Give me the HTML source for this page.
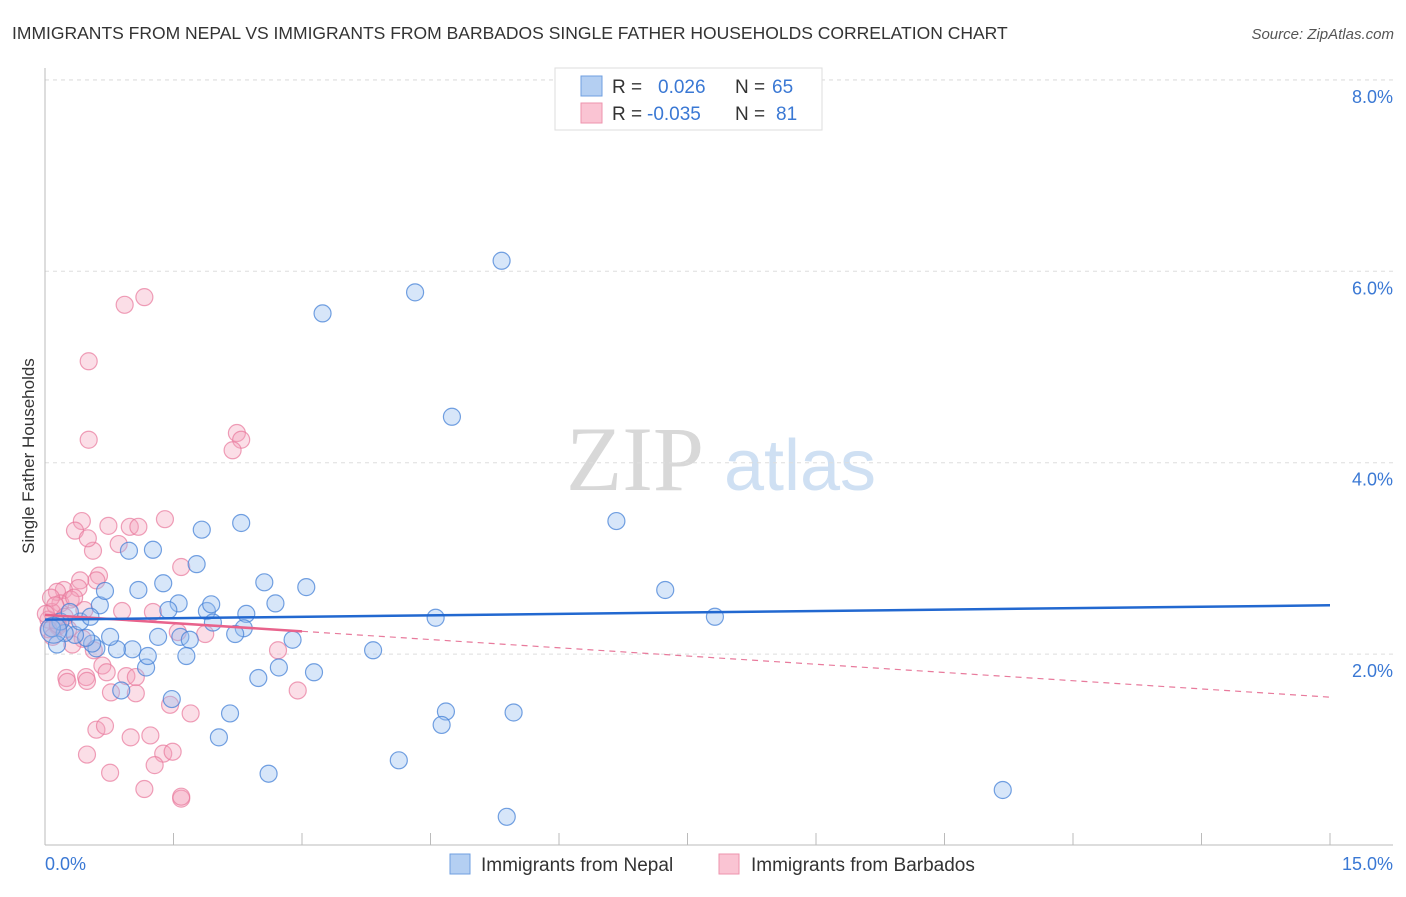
<!DOCTYPE html>
<html><head><meta charset="utf-8"><style>
body{margin:0;background:#fff;font-family:"Liberation Sans",sans-serif;}
</style></head><body>
<svg width="1406" height="892" xmlns="http://www.w3.org/2000/svg" font-family="Liberation Sans, sans-serif">
<text x="12" y="39" font-size="17.5" fill="#333">IMMIGRANTS FROM NEPAL VS IMMIGRANTS FROM BARBADOS SINGLE FATHER HOUSEHOLDS CORRELATION CHART</text>
<text x="1394" y="39" font-size="15" fill="#555" font-style="italic" text-anchor="end">Source: ZipAtlas.com</text>
<text x="34" y="456" font-size="17" fill="#333" transform="rotate(-90 34 456)" text-anchor="middle">Single Father Households</text>
<g><text x="635" y="490" font-size="92" fill="#d8d8d8" font-family="Liberation Serif, serif" text-anchor="middle">ZIP</text><text x="800" y="490" font-size="72" fill="#cfe0f3" text-anchor="middle">atlas</text></g>
<g id="grid"></g><g id="axes"></g><g id="marks"></g><g id="lines"></g>
<g>
<rect x="555" y="68" width="267" height="62" fill="#fff" stroke="#ddd"/>
<rect x="581" y="76" width="21" height="20" fill="#b4cff2" stroke="#6f9fe0"/>
<rect x="581" y="103" width="21" height="20" fill="#fac4d3" stroke="#ee93ae"/>
<text x="612" y="93" font-size="19" fill="#333">R =</text><text x="658" y="93" font-size="19" fill="#3a78d4">0.026</text>
<text x="735" y="93" font-size="19" fill="#333">N =</text><text x="772" y="93" font-size="19" fill="#3a78d4">65</text>
<text x="612" y="120" font-size="19" fill="#333">R =</text><text x="647" y="120" font-size="19" fill="#3a78d4">-0.035</text>
<text x="735" y="120" font-size="19" fill="#333">N =</text><text x="776" y="120" font-size="19" fill="#3a78d4">81</text>
</g>
<g>
<rect x="450" y="854" width="20" height="20" fill="#b4cff2" stroke="#6f9fe0"/>
<text x="481" y="871" font-size="19" fill="#333">Immigrants from Nepal</text>
<rect x="719" y="854" width="20" height="20" fill="#fac4d3" stroke="#ee93ae"/>
<text x="751" y="871" font-size="19" fill="#333">Immigrants from Barbados</text>
</g>
</svg>
<script>
const yTicks=[2,4,6,8];
const yTickLabels=["2.0%","4.0%","6.0%","8.0%"];
const xTickCount=10;
const xLabels=["0.0%","15.0%"];
const nepalX=[5.33,4.32,3.24,4.75,6.67,7.24,7.82,4.56,3.83,11.18,5.39,5.47,4.68,4.63,4.13,2.61,2.03,2.16,1.48,0.89,2.49,2.73,3.14,2.89,3.05,2.56,2.69,2.29,1.83,1.77,1.26,0.98,1.38,1.09,1.56,1.44,1.89,1.94,2.35,2.32,2.22,1.96,1.58,1.69,1.32,1.65,1.18,1.20,1.02,0.84,0.76,0.64,0.70,0.60,0.55,0.48,0.35,0.23,0.14,0.41,0.18,0.29,0.08,0.53,0.10];
const nepalY=[6.11,5.78,5.56,4.48,3.39,2.67,2.39,2.38,2.04,0.58,0.30,1.39,1.40,1.26,0.89,0.75,1.13,1.38,1.53,1.62,1.75,1.86,1.81,2.15,2.70,2.75,2.53,3.37,3.30,2.94,3.09,3.08,2.74,2.67,2.53,2.46,2.45,2.52,2.42,2.27,2.21,2.33,2.18,2.15,2.18,1.98,1.86,1.98,2.05,2.05,2.18,2.51,2.66,2.06,2.11,2.17,2.20,2.22,2.10,2.34,2.34,2.44,2.27,2.39,2.25];
const barbX=[1.16,0.93,0.51,0.51,2.24,2.29,2.19,1.40,0.43,0.35,0.74,0.99,1.09,0.86,0.56,0.50,1.59,0.63,0.60,0.41,0.39,0.22,0.14,0.18,0.30,0.34,0.90,1.26,0.46,0.08,0.04,0.15,0.04,0.09,0.44,0.32,0.57,1.55,1.87,2.72,2.95,0.67,0.72,0.48,0.25,0.26,0.49,0.95,1.06,0.77,1.06,1.46,1.70,0.60,0.70,1.00,1.23,0.49,1.38,1.49,1.28,0.76,1.16,1.59,1.59,0.07,0.12,0.01,0.23,0.15,0.27];
const barbY=[5.73,5.65,5.06,4.24,4.31,4.24,4.13,3.41,3.39,3.29,3.34,3.33,3.33,3.15,3.08,3.21,2.91,2.82,2.77,2.77,2.69,2.67,2.65,2.53,2.57,2.59,2.45,2.44,2.46,2.44,2.36,2.29,2.26,2.18,2.16,2.10,2.04,2.23,2.21,2.04,1.62,1.88,1.81,1.76,1.75,1.71,1.72,1.77,1.76,1.60,1.59,1.47,1.38,1.21,1.25,1.13,1.15,0.95,0.96,0.98,0.84,0.76,0.59,0.49,0.51,2.59,2.51,2.42,2.39,2.31,2.26];
const nepalTrend=[2.36,2.51];
const barbTrend=[2.41,1.55];
const barbSolidEnd=3.0;
const X=v=>45+v*(1285/15), Y=v=>845.5-v*95.7;
const NS="http://www.w3.org/2000/svg";
function mk(tag,attrs,parent){const e=document.createElementNS(NS,tag);for(const k in attrs)e.setAttribute(k,attrs[k]);document.getElementById(parent).appendChild(e);return e;}
yTicks.forEach((t,i)=>{
 const l=mk('line',{x1:45,x2:1393,y1:Y(t),y2:Y(t),stroke:'#ddd','stroke-dasharray':'4,4'},'grid');
 
 
 const tx=mk('text',{x:1393,y:Y(t)+23,'font-size':18,fill:'#3a78d4','text-anchor':'end'},'grid');
 tx.textContent=yTickLabels[i];
 
 
});
const tg=mk('line',{x1:45,x2:1393,y1:80,y2:80,stroke:'#ddd','stroke-dasharray':'4,4'},'grid');
mk('line',{x1:45,x2:45,y1:68,y2:845,stroke:'#bbb'},'axes');
mk('line',{x1:45,x2:1393,y1:845,y2:845,stroke:'#bbb'},'axes');
for(let i=0;i<=xTickCount;i++){const t=mk('line',{x1:X(i*1.5),x2:X(i*1.5),y1:833,y2:845,stroke:'#bbb'},'axes');
 
 }
const xl0=mk('text',{x:45,y:870,'font-size':18,fill:'#3a78d4'},'axes');xl0.textContent=xLabels[0];


const xl1=mk('text',{x:1393,y:870,'font-size':18,fill:'#3a78d4','text-anchor':'end'},'axes');xl1.textContent=xLabels[1];


barbX.forEach((v,i)=>{const c=mk('circle',{cx:X(v),cy:Y(barbY[i]),r:8.5,fill:'rgba(244,160,185,0.35)',stroke:'rgba(232,120,155,0.7)','stroke-width':1.2},'marks');
 
 });
nepalX.forEach((v,i)=>{const c=mk('circle',{cx:X(v),cy:Y(nepalY[i]),r:i==nepalX.length-1?13:8.5,fill:'rgba(150,190,238,0.38)',stroke:'rgba(70,130,215,0.75)','stroke-width':1.2},'marks');
 
 });
const bAt=x=>barbTrend[0]+(barbTrend[1]-barbTrend[0])*x/15;
const pd=mk('line',{x1:X(barbSolidEnd),y1:Y(bAt(barbSolidEnd)),x2:X(15),y2:Y(barbTrend[1]),stroke:'#e87a9c','stroke-width':1.2,'stroke-dasharray':'6,5'},'lines');


const ps=mk('line',{x1:X(0),y1:Y(barbTrend[0]),x2:X(barbSolidEnd),y2:Y(bAt(barbSolidEnd)),stroke:'#e8638c','stroke-width':2.5},'lines');


const nl=mk('line',{x1:X(0),y1:Y(nepalTrend[0]),x2:X(15),y2:Y(nepalTrend[1]),stroke:'#2268d0','stroke-width':2.5},'lines');


</script>
</body></html>
